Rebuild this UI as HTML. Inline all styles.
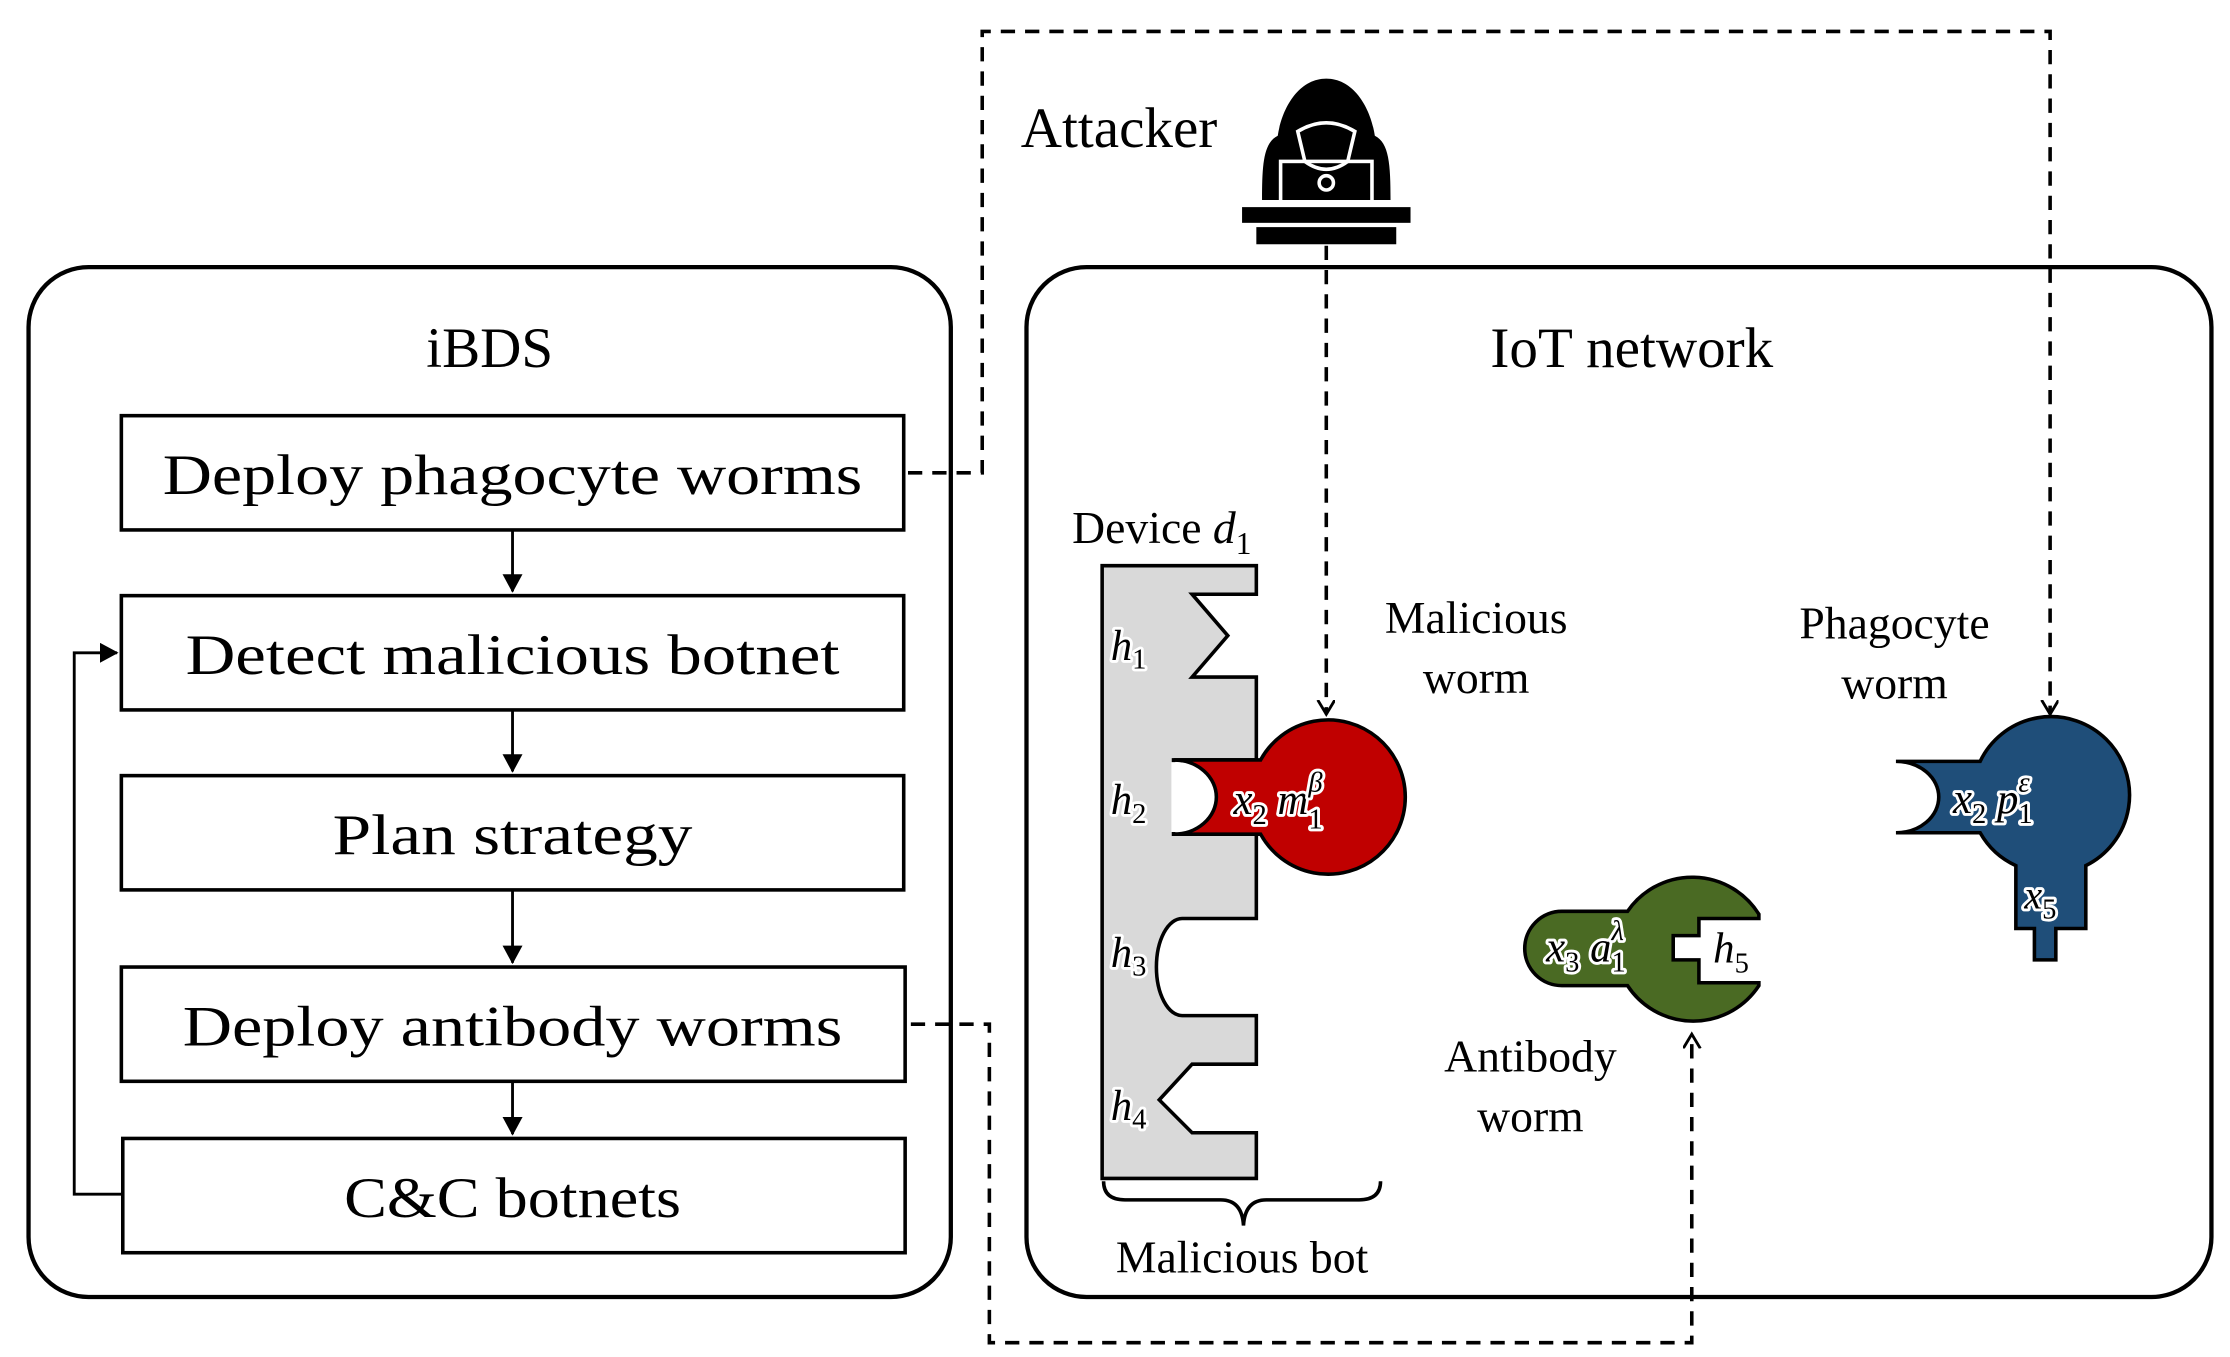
<!DOCTYPE html>
<html><head><meta charset="utf-8"><style>
html,body{margin:0;padding:0;background:#fff;}
svg{display:block;}
text{font-family:"Liberation Serif",serif;fill:#000;}
.it{font-style:italic;}
.lb{font-style:italic;fill:#000;stroke:#fff;stroke-width:4;paint-order:stroke;stroke-linejoin:round;}
.up{font-style:normal;}
</style></head><body>
<svg width="2230" height="1357" viewBox="0 0 1562 950" preserveAspectRatio="none" xmlns="http://www.w3.org/2000/svg">
<defs>
<marker id="ah" markerWidth="14" markerHeight="14" refX="10" refY="6" orient="auto" markerUnits="userSpaceOnUse">
<path d="M0,0 L10,6 L0,12" fill="none" stroke="#000" stroke-width="2" stroke-dasharray="none"/></marker>
<marker id="af" markerWidth="14" markerHeight="14" refX="12" refY="7" orient="auto" markerUnits="userSpaceOnUse">
<path d="M0,0 L13,7 L0,14 z" fill="#000"/></marker>
</defs>
<!-- iBDS -->
<rect x="20" y="187" width="646" height="721" rx="42" fill="none" stroke="#000" stroke-width="3"/>
<text x="343" y="257" font-size="40" text-anchor="middle">iBDS</text>
<g fill="#fff" stroke="#000" stroke-width="2.5">
<rect x="85" y="291" width="548" height="80"/>
<rect x="85" y="417" width="548" height="80"/>
<rect x="85" y="543" width="548" height="80"/>
<rect x="85" y="677" width="549" height="80"/>
<rect x="86" y="797" width="548" height="80"/>
</g>
<g font-size="40" text-anchor="middle">
<text x="359" y="346" textLength="490" lengthAdjust="spacingAndGlyphs">Deploy phagocyte worms</text>
<text x="359" y="472" textLength="458" lengthAdjust="spacingAndGlyphs">Detect malicious botnet</text>
<text x="359" y="598" textLength="252" lengthAdjust="spacingAndGlyphs">Plan strategy</text>
<text x="359" y="732" textLength="462" lengthAdjust="spacingAndGlyphs">Deploy antibody worms</text>
<text x="359" y="852" textLength="236" lengthAdjust="spacingAndGlyphs">C&amp;C botnets</text>
</g>
<g stroke="#000" stroke-width="2" fill="none">
<line x1="359" y1="371" x2="359" y2="414" marker-end="url(#af)"/>
<line x1="359" y1="497" x2="359" y2="540" marker-end="url(#af)"/>
<line x1="359" y1="623" x2="359" y2="674" marker-end="url(#af)"/>
<line x1="359" y1="757" x2="359" y2="794" marker-end="url(#af)"/>
<polyline points="86,836 52,836 52,457 82,457" marker-end="url(#af)"/>
</g>
<!-- IoT -->
<rect x="719" y="187" width="830" height="721" rx="42" fill="none" stroke="#000" stroke-width="3"/>
<text x="1143" y="257" font-size="40" text-anchor="middle">IoT network</text>
<!-- attacker -->
<text x="715" y="103" font-size="40">Attacker</text>
<g fill="#000">
<path d="M929,55 C910,55 898,75 895,95 C885,100 884,115 884,140 L974,140 C974,115 973,100 963,95 C960,75 948,55 929,55 Z"/>
<path d="M909,92 Q929,80 949,92 L944,113 Q929,124 914,113 Z" fill="none" stroke="#fff" stroke-width="2.5"/>
<rect x="897" y="113" width="64" height="30" fill="none" stroke="#fff" stroke-width="2.5"/>
<circle cx="929" cy="128" r="5" fill="none" stroke="#fff" stroke-width="2.5"/>
<rect x="870" y="145" width="118" height="11"/>
<rect x="880" y="159" width="98" height="12"/>
</g>
<!-- device -->
<text x="751" y="380" font-size="32">Device <tspan class="it">d</tspan><tspan font-size="22" dy="8">1</tspan></text>
<path d="M772,396 L880,396 L880,416 L835,416 L860,445 L835,474 L880,474 L880,532 L822,532 L822,584 L880,584 L880,643 L828,643 A18,34 0 0 0 828,711 L880,711 L880,745 L835,745 L812,770 L835,793 L880,793 L880,825 L772,825 Z" fill="#d9d9d9" stroke="#000" stroke-width="2.5"/>
<path d="M773,827 Q773,840 788,840 L855,840 Q870,840 871,858 Q872,840 887,840 L952,840 Q967,840 967,827" fill="none" stroke="#000" stroke-width="2.5"/>
<text x="870" y="891" font-size="32" text-anchor="middle">Malicious bot</text>
<!-- dashed -->
<g stroke="#000" stroke-width="2.5" fill="none" stroke-dasharray="10,7">
<polyline points="636,331 688,331 688,22 1436,22 1436,500" marker-end="url(#ah)"/>
<polyline points="929,172 929,500" marker-end="url(#ah)"/>
<polyline points="638,717 693,717 693,940 1185,940 1185,724" marker-end="url(#ah)"/>
</g>
<!-- red worm -->
<path d="M820.5,533.5 L850,533.5 L850,582.5 L820.5,582.5 Z" fill="#fff"/>
<path d="M822,532 L883,532 A54,54 0 1 1 883,584 L822,584 A30,26 0 0 0 822,532 Z" fill="#c00000" stroke="#000" stroke-width="2.5"/>
<g font-size="30">
<text x="778" y="462" class="lb">h<tspan class="up" font-size="20" dy="6">1</tspan></text>
<text x="778" y="570" class="lb">h<tspan class="up" font-size="20" dy="6">2</tspan></text>
<text x="778" y="677" class="lb">h<tspan class="up" font-size="20" dy="6">3</tspan></text>
<text x="778" y="784" class="lb">h<tspan class="up" font-size="20" dy="6">4</tspan></text>
</g>
<text x="864" y="570" font-size="30" class="lb">x<tspan class="up" font-size="20" dy="7">2</tspan><tspan dy="-7"> m</tspan><tspan class="up" font-size="20" dy="10">1</tspan><tspan font-size="20" dx="-10" dy="-26">β</tspan></text>
<text x="1034" y="443" font-size="32" text-anchor="middle">Malicious</text>
<text x="1034" y="485" font-size="32" text-anchor="middle">worm</text>
<!-- blue worm -->
<path d="M1328,533 L1387,533 A55,55 0 1 1 1461,606 L1461,650 L1440,650 L1440,672 L1425,672 L1425,650 L1412,650 L1412,606 A55,55 0 0 1 1387,583 L1328,583 A30,25 0 0 0 1328,533 Z" fill="#1f4e79" stroke="#000" stroke-width="2.5"/>
<text x="1368" y="569" font-size="30" class="lb">x<tspan class="up" font-size="20" dy="7">2</tspan><tspan dy="-7"> p</tspan><tspan class="up" font-size="20" dy="7">1</tspan><tspan font-size="20" dx="-10" dy="-22">ε</tspan></text>
<text x="1418" y="636" font-size="28" class="lb">x<tspan class="up" font-size="20" dy="7">5</tspan></text>
<text x="1327" y="447" font-size="32" text-anchor="middle">Phagocyte</text>
<text x="1327" y="489" font-size="32" text-anchor="middle">worm</text>
<!-- green worm -->
<path d="M1094,638 L1140,638 A55,55 0 0 1 1232,640 L1232,643 L1190,643 L1190,655 L1172,655 L1172,672 L1190,672 L1190,688 L1232,688 L1232,690 A55,55 0 0 1 1140,690 L1094,690 A26,26 0 0 1 1094,638 Z" fill="#4a6a23" stroke="#000" stroke-width="2.5"/>
<text x="1083" y="673" font-size="30" class="lb">x<tspan class="up" font-size="20" dy="7">3</tspan><tspan dy="-7"> a</tspan><tspan class="up" font-size="20" dy="7">1</tspan><tspan font-size="20" dx="-10" dy="-22">λ</tspan></text>
<text x="1200" y="674" font-size="30" class="lb">h<tspan class="up" font-size="20" dy="7">5</tspan></text>
<text x="1072" y="750" font-size="32" text-anchor="middle">Antibody</text>
<text x="1072" y="792" font-size="32" text-anchor="middle">worm</text>
</svg>
</body></html>
